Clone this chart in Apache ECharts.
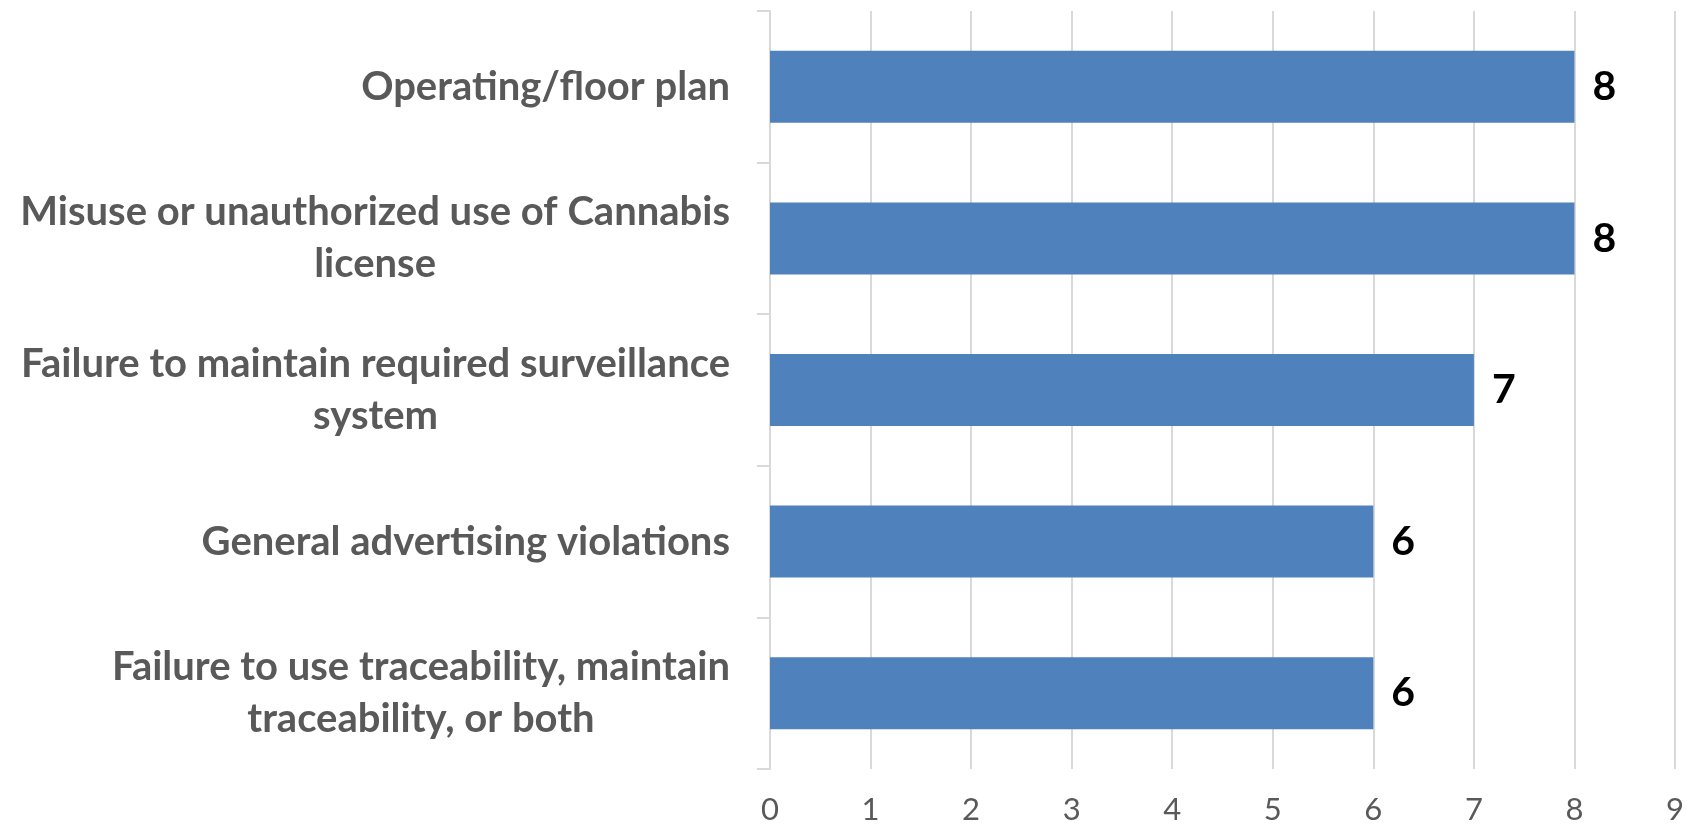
<!DOCTYPE html>
<html>
<head>
<meta charset="utf-8">
<script src="https://cdn.jsdelivr.net/npm/echarts@6/dist/echarts.min.js"></script>
<style>
html,body{margin:0;padding:0;background:#fff;}
#chart{width:1687px;height:825px;}
</style>
</head>
<body>
<div id="chart"></div>
<script>
var categories = [
  "Operating/floor plan",
  "Misuse or unauthorized use of Cannabis\nlicense",
  "Failure to maintain required surveillance\nsystem",
  "General advertising violations",
  "Failure to use traceability, maintain\ntraceability, or both"
];
var values = [8, 8, 7, 6, 6];
var xTicks = [0, 1, 2, 3, 4, 5, 6, 7, 8, 9];

var FONT = 'Lato, "Open Sans", sans-serif';
var chart = echarts.init(document.getElementById('chart'), null, {renderer: 'canvas'});
chart.setOption({
  animation: false,
  backgroundColor: '#ffffff',
  grid: {left: 770, right: 12, top: 11, bottom: 54, containLabel: false},
  xAxis: {
    type: 'value',
    min: xTicks[0],
    max: xTicks[xTicks.length - 1],
    interval: 1,
    axisLine: {show: false},
    axisTick: {show: false},
    splitLine: {show: true, lineStyle: {color: '#d9d9d9', width: 2}},
    axisLabel: {margin: 25, fontSize: 31, color: '#595959', fontFamily: FONT}
  },
  yAxis: {
    type: 'category',
    inverse: true,
    data: categories,
    axisLine: {show: true, lineStyle: {color: '#d9d9d9', width: 2}},
    axisTick: {show: true, length: 13, lineStyle: {color: '#d9d9d9', width: 2}},
    axisLabel: {
      margin: 40,
      align: 'right',
      formatter: function (v) {
        return v.split('\n').map(function (l) { return '{a|' + l + '}'; }).join('\n');
      },
      rich: {
        a: {align: 'center', fontSize: 40, fontWeight: 'bold', color: '#595959', fontFamily: FONT, lineHeight: 52}
      }
    }
  },
  series: [{
    type: 'bar',
    data: values,
    barWidth: 72,
    itemStyle: {color: '#4F81BD'},
    label: {
      show: true,
      position: 'right',
      distance: 18,
      fontSize: 41,
      fontWeight: 'bold',
      color: '#000000',
      fontFamily: FONT
    }
  }]
});
</script>
</body>
</html>
